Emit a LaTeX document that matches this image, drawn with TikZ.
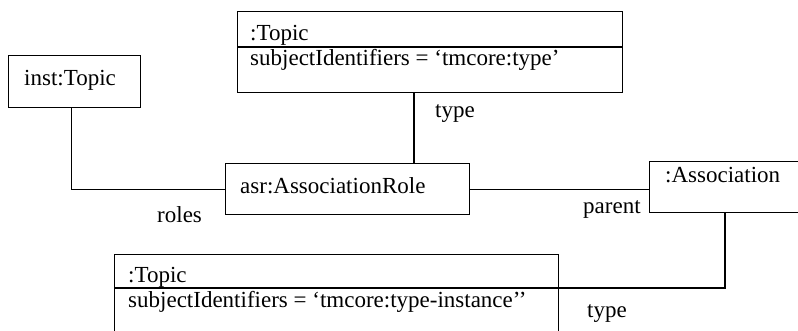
\documentclass[tikz,border=0pt]{standalone}
\usepackage{fontspec}
\setmainfont{Liberation Serif}
\tikzset{
  objbox/.style={draw,line width=1.3pt,inner sep=0pt,anchor=north west},
  objtext/.style={anchor=base west,inner sep=0pt,font=\fontsize{23}{27}\selectfont},
  link/.style={line width=1.3pt}
}
\begin{document}
\begin{tikzpicture}[x=1pt,y=-1pt]
  \useasboundingbox (0,0) rectangle (798,330);
  \clip (0,0) rectangle (798,330);
  % objects
  \node[objbox,minimum width=132pt,minimum height=52pt] (inst) at (8,55) {};
  \node[objtext] (instName) at (24,85) {inst:Topic};
  \node[objbox,minimum width=385pt,minimum height=81pt] (typeTopic) at (237,11) {};
  \draw[link] ([yshift=-36pt]typeTopic.north west) -- ([yshift=-36pt]typeTopic.north east);
  \node[objtext] (typeName) at (250,40) {:Topic};
  \node[objtext] (typeAttr) at (250,65) {subjectIdentifiers = ‘tmcore:type’};
  \node[objbox,minimum width=244pt,minimum height=51pt] (asr) at (225,163) {};
  \node[objtext] (asrName) at (240,193) {asr:AssociationRole};
  \node[objbox,minimum width=170pt,minimum height=51pt] (assoc) at (649,161) {};
  \node[objtext] (assocName) at (665,182) {:Association};
  \node[objbox,minimum width=444pt,minimum height=100pt] (instTopic) at (114,254) {};
  \coordinate (instSep) at ([yshift=-34pt]instTopic.north east);
  \draw[link] ([yshift=-34pt]instTopic.north west) -- (instSep);
  \node[objtext] (instTopicName) at (128,282) {:Topic};
  \node[objtext] (instTopicAttr) at (128,307) {subjectIdentifiers = ‘tmcore:type-instance’’};
  % links
  \coordinate (typeX) at (414,0);
  \coordinate (assocX) at (725,0);
  \draw[link] ([xshift=-3pt]inst.south) |- (asr.west);
  \draw[link] (typeTopic.south -| typeX) -- (asr.north -| typeX);
  \draw[link] (asr.east) -- (asr.east -| assoc.west);
  \draw[link] (assoc.south -| assocX) |- (instSep);
  % role labels
  \node[objtext] (typeLbl) at (435,117) {type};
  \node[objtext] (rolesLbl) at (157,222) {roles};
  \node[objtext] (parentLbl) at (583,213) {parent};
  \node[objtext] (instTypeLbl) at (587,317) {type};
\end{tikzpicture}
\end{document}
